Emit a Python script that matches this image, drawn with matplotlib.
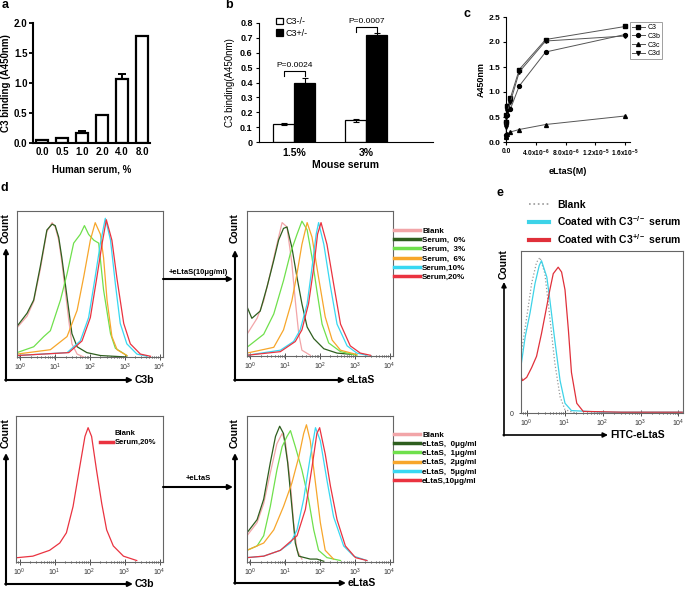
import numpy as np
import matplotlib
matplotlib.use('Agg')
import matplotlib.pyplot as plt
from matplotlib.lines import Line2D

plt.rcParams['font.family'] = ['Liberation Sans', 'DejaVu Sans']
plt.rcParams['mathtext.default'] = 'regular'

W, H = 685, 589

# ---------------------
# panel a: C3 binding vs human serum
# ---------------------
a_labels = ['0.0', '0.5', '1.0', '2.0', '4.0', '8.0']
a_values = [0.05, 0.08, 0.17, 0.46, 1.07, 1.78]
a_errors = [0.005, 0.01, 0.03, 0.015, 0.08, 0.01]

# ---------------------
# panel b: mouse serum
# ---------------------
b_groups = ['1.5%', '3%']
b_ko = [0.12, 0.145]
b_ko_err = [0.006, 0.01]
b_het = [0.40, 0.72]
b_het_err = [0.03, 0.01]
b_pvals = ['P=0.0024', 'P=0.0007']

# ---------------------
# panel c: eLtaS titration
# ---------------------
c_conc = [1.6e-5, 5.33e-6, 1.78e-6, 5.9e-7, 1.98e-7, 6.6e-8, 2.2e-8]
c_C3 = [2.31, 2.05, 1.45, 0.88, 0.73, 0.55, 0.40]
c_C3b = [2.15, 1.80, 1.12, 0.66, 0.55, 0.40, 0.15]
c_C3c = [0.52, 0.35, 0.25, 0.20, 0.16, 0.13, 0.10]
c_C3d = [2.12, 2.02, 1.40, 0.80, 0.62, 0.50, 0.30]
c_xticklabels = ['0.0', '4.0x10$^{-6}$', '8.0x10$^{-6}$', '1.2x10$^{-5}$', '1.6x10$^{-5}$']

# ---------------------
# panel d: flow histograms (log10 fluorescence, relative count)
# ---------------------
# top left, C3b
d1_blank_log = [-0.10, 0.19, 0.38, 0.57, 0.76, 0.91, 1.00, 1.10, 1.19, 1.29, 1.39, 1.48, 1.63, 1.82]
d1_blank_cnt = [20, 28, 38, 60, 86, 92, 89, 80, 65, 45, 25, 9, 2, 0]
d1_s0_log = [-0.10, 0.19, 0.38, 0.57, 0.76, 0.91, 1.00, 1.10, 1.19, 1.29, 1.39, 1.48, 1.63, 1.91, 2.30, 2.68, 3.06]
d1_s0_cnt = [21, 30, 39, 62, 87, 91, 90, 82, 68, 50, 32, 16, 7, 3, 1, 0.5, 0]
d1_s3_log = [-0.10, 0.38, 0.67, 0.86, 1.15, 1.34, 1.53, 1.72, 1.84, 1.96, 2.11, 2.25, 2.39, 2.59, 2.73, 3.06]
d1_s3_cnt = [3, 7, 14, 18, 39, 57, 78, 84, 90, 84, 80, 78, 46, 16, 6, 1]
d1_s6_log = [-0.10, 0.86, 1.34, 1.63, 1.82, 2.01, 2.15, 2.30, 2.39, 2.49, 2.63, 2.78, 3.06]
d1_s6_cnt = [2, 5, 14, 32, 55, 80, 92, 84, 68, 39, 14, 5, 1]
d1_s10_log = [-0.10, 1.34, 1.72, 1.96, 2.15, 2.30, 2.44, 2.59, 2.73, 2.87, 3.06, 3.35, 3.64]
d1_s10_cnt = [1, 3, 11, 27, 55, 78, 95, 80, 50, 23, 9, 2, 0.5]
d1_s20_log = [-0.10, 1.39, 1.77, 2.01, 2.20, 2.35, 2.47, 2.63, 2.78, 2.97, 3.16, 3.45, 3.74]
d1_s20_cnt = [1, 3, 11, 27, 55, 78, 94, 80, 53, 23, 9, 2, 0.5]

# top right, eLtaS after serum coating
d1e_blank_log = [-0.10, 0.19, 0.38, 0.57, 0.76, 0.91, 1.05, 1.19, 1.29, 1.39, 1.48, 1.72]
d1e_blank_cnt = [15, 26, 38, 57, 77, 92, 89, 64, 38, 15, 4, 0.5]
d1e_s0_log = [-0.10, 0.04, 0.28, 0.48, 0.67, 0.81, 0.95, 1.05, 1.19, 1.34, 1.48, 1.63, 1.82, 2.11, 2.49, 2.97]
d1e_s0_cnt = [34, 26, 31, 48, 66, 80, 88, 89, 75, 54, 36, 20, 12, 5, 2, 1]
d1e_s3_log = [-0.10, 0.38, 0.67, 0.95, 1.15, 1.34, 1.48, 1.63, 1.77, 1.91, 2.06, 2.25, 2.59, 3.06]
d1e_s3_cnt = [6, 15, 29, 52, 71, 84, 93, 87, 68, 45, 22, 9, 3, 0.5]
d1e_s6_log = [-0.10, 0.67, 0.95, 1.19, 1.34, 1.48, 1.63, 1.77, 1.96, 2.15, 2.35, 2.59, 3.06]
d1e_s6_cnt = [2, 6, 18, 38, 57, 77, 92, 82, 54, 27, 11, 4, 1]
d1e_s10_log = [-0.10, 0.86, 1.24, 1.43, 1.63, 1.77, 1.89, 1.96, 2.11, 2.30, 2.49, 2.78, 3.06, 3.35]
d1e_s10_cnt = [0.5, 4, 10, 18, 36, 61, 84, 92, 77, 48, 22, 7, 2, 0.5]
d1e_s20_log = [-0.10, 0.86, 1.29, 1.48, 1.67, 1.82, 1.93, 2.03, 2.20, 2.39, 2.59, 2.87, 3.16, 3.45]
d1e_s20_cnt = [0.5, 3, 10, 18, 36, 61, 84, 92, 77, 50, 22, 7, 2, 0.5]

# bottom left, C3b with 20% serum
d2_s20_log = [-0.10, -0.09, -0.05, 0.38, 0.86, 1.15, 1.34, 1.53, 1.72, 1.87, 1.96, 2.06, 2.20, 2.35, 2.49, 2.68, 2.97, 3.35]
d2_s20_cnt = [14, 3, 3, 4, 8, 13, 20, 38, 65, 86, 92, 86, 63, 40, 22, 11, 4, 1]

# bottom right, eLtaS titration
d2e_blank_log = [-0.10, 0.19, 0.38, 0.57, 0.76, 0.91, 1.00, 1.15, 1.24, 1.34, 1.48]
d2e_blank_cnt = [18, 27, 40, 61, 81, 88, 83, 54, 27, 8, 2]
d2e_e0_log = [-0.10, 0.19, 0.38, 0.57, 0.72, 0.84, 0.95, 1.07, 1.19, 1.29, 1.39, 1.72, 1.91, 2.11]
d2e_e0_cnt = [20, 29, 43, 68, 86, 93, 88, 68, 38, 13, 4, 2, 2, 0.5]
d2e_e1_log = [-0.10, 0.19, 0.38, 0.57, 0.76, 0.91, 1.05, 1.15, 1.29, 1.48, 1.67, 1.82, 1.96, 2.20, 2.59]
d2e_e1_cnt = [8, 11, 18, 38, 63, 79, 86, 90, 79, 63, 43, 22, 8, 3, 1]
d2e_e2_log = [-0.10, 0.38, 0.67, 0.95, 1.19, 1.39, 1.53, 1.61, 1.72, 1.87, 2.01, 2.15, 2.39]
d2e_e2_cnt = [8, 13, 22, 38, 54, 72, 88, 94, 83, 54, 27, 8, 2]
d2e_e5_log = [-0.10, 0.38, 0.86, 1.15, 1.34, 1.53, 1.72, 1.87, 2.01, 2.20, 2.39, 2.68, 2.97, 3.35]
d2e_e5_cnt = [3, 4, 8, 13, 22, 43, 72, 92, 83, 56, 31, 11, 4, 1]
d2e_e10_log = [-0.10, 0.38, 0.86, 1.34, 1.58, 1.77, 1.91, 1.99, 2.15, 2.30, 2.49, 2.73, 3.02, 3.35]
d2e_e10_cnt = [3, 4, 8, 18, 36, 65, 88, 92, 74, 52, 29, 11, 3, 1]

# ---------------------
# panel e: FITC-eLtaS on coated beads
# ---------------------
e_blank_log = [-0.13, 0.0, 0.13, 0.26, 0.35, 0.48, 0.61, 0.74, 0.88, 1.01, 1.30]
e_blank_cnt = [39, 59, 80, 93, 96, 86, 59, 31, 10, 2, 0]
e_ko_log = [-0.15, -0.04, 0.09, 0.22, 0.33, 0.39, 0.53, 0.61, 0.74, 0.88, 1.01, 1.18, 2.0, 4.1]
e_ko_cnt = [29, 47, 62, 80, 91, 94, 84, 70, 45, 20, 6, 1.5, 0.5, 0.5]
e_het_log = [-0.15, -0.14, -0.11, 0.0, 0.13, 0.26, 0.39, 0.53, 0.61, 0.70, 0.83, 0.92, 1.01, 1.10, 1.18, 1.32, 1.49, 2.5, 4.1]
e_het_cnt = [96, 22, 20, 22, 28, 35, 49, 66, 76, 86, 90, 87, 76, 51, 25, 6, 1, 0.5, 0.5]

d_colors = ['#f2a5a8', '#2e5e1e', '#6fe04c', '#f7a62b', '#38d8f2', '#ea3340']
d1_labels = ['Blank', 'Serum,  0%', 'Serum,  3%', 'Serum,  6%', 'Serum,10%', 'Serum,20%']
d2_labels = ['Blank', 'eLtaS,  0\u03bcg/ml', 'eLtaS,  1\u03bcg/ml', 'eLtaS,  2\u03bcg/ml',
             'eLtaS,  5\u03bcg/ml', 'eLtaS,10\u03bcg/ml']
e_labels = ['Blank', r'Coated with C3$^{-/-}$ serum', r'Coated with C3$^{+/-}$ serum']


def px_rect(x0, y0, x1, y1):
    return [x0 / W, 1 - y1 / H, (x1 - x0) / W, (y1 - y0) / H]


fig = plt.figure(figsize=(W / 100, H / 100), dpi=100)

# overlay in pixel coordinates for arrows and free text
ov = fig.add_axes([0, 0, 1, 1], zorder=10)
ov.set_xlim(0, W)
ov.set_ylim(H, 0)
ov.axis('off')
ov.patch.set_alpha(0)

# ---- a
ax = fig.add_axes(px_rect(33, 23, 150, 143))
xa = np.arange(len(a_values))
ax.errorbar(xa, a_values, yerr=[np.zeros(len(a_errors)), a_errors], fmt='none',
            ecolor='black', elinewidth=1.4, capsize=3, capthick=1.4, zorder=1)
ax.bar(xa, a_values, width=0.6, color='white', edgecolor='black', linewidth=1.6, zorder=2)
ax.set_xlim(-0.45, 5.4)
ax.set_ylim(0, 2.0)
ax.set_xticks(xa)
ax.set_xticklabels(a_labels, fontweight='bold')
ax.set_yticks([0, 0.5, 1.0, 1.5, 2.0])
ax.set_yticklabels(['0.0', '0.5', '1.0', '1.5', '2.0'], fontweight='bold')
for s in ['top', 'right']:
    ax.spines[s].set_visible(False)
for s in ['left', 'bottom']:
    ax.spines[s].set_linewidth(1.5)
ax.tick_params(axis='y', width=1.3, length=3, labelsize=7, pad=1)
ax.tick_params(axis='x', length=0, labelsize=7, pad=3)
ax.set_ylabel('C3 binding (A450nm)', fontsize=7, fontweight='bold', labelpad=2)
ax.set_xlabel('Human serum, %', fontsize=7, fontweight='bold', labelpad=5)

# ---- b
ax = fig.add_axes(px_rect(259, 23, 433, 142))
xb = np.arange(len(b_groups))
bw = 0.29
bk = ax.bar(xb - bw / 2, b_ko, width=bw, color='white', edgecolor='black', linewidth=0.9,
            yerr=b_ko_err, error_kw=dict(elinewidth=0.8, capsize=2, capthick=0.8))
bh = ax.bar(xb + bw / 2, b_het, width=bw, color='black', edgecolor='black', linewidth=0.9,
            yerr=b_het_err, error_kw=dict(elinewidth=0.8, capsize=2, capthick=0.8))
ax.set_xlim(-0.49, 1.93)
ax.set_ylim(0, 0.8)
ax.set_xticks(xb)
ax.set_xticklabels(b_groups, fontweight='bold')
ax.set_yticks(np.arange(0, 0.81, 0.1))
ax.set_yticklabels(['0', '0.1', '0.2', '0.3', '0.4', '0.5', '0.6', '0.7', '0.8'], fontweight='bold')
for s in ['top', 'right']:
    ax.spines[s].set_visible(False)
ax.tick_params(axis='y', width=0.8, length=2.5, labelsize=6.5, pad=2)
ax.tick_params(axis='x', length=0, labelsize=7.5, pad=4)
ax.set_ylabel('C3 binding(A450nm)', fontsize=7, labelpad=4)
ax.set_xlabel('Mouse serum', fontsize=7.5, fontweight='bold', labelpad=2)
br_top = [0.48, 0.775]
for i, p in enumerate(b_pvals):
    x0, x1 = xb[i] - bw / 2, xb[i] + bw / 2
    top = br_top[i]
    ax.plot([x0, x0, x1, x1], [top - 0.035, top, top, top - 0.035], color='black', lw=0.8,
            clip_on=False)
    ax.text(xb[i], top + 0.035, p, ha='center', va='center', fontsize=6)
ax.legend([bk, bh], ['C3-/-', 'C3+/-'], loc='upper left', bbox_to_anchor=(0.1, 1.05),
          frameon=False, fontsize=6.5, handlelength=0.7, handleheight=0.7,
          handletextpad=0.3, labelspacing=0.3, borderpad=0, borderaxespad=0)

# ---- c
ax = fig.add_axes(px_rect(506, 17, 630, 142))
for vals, m, name in zip([c_C3, c_C3b, c_C3c, c_C3d], ['s', 'o', '^', 'v'],
                         ['C3', 'C3b', 'C3c', 'C3d']):
    ax.plot(c_conc, vals, marker=m, color='#555555', lw=0.7, ms=2.8,
            mfc='black', mec='black', label=name, clip_on=False)
ax.set_xlim(0, 1.667e-5)
ax.set_ylim(0, 2.5)
ax.set_xticks([0, 4e-6, 8e-6, 1.2e-5, 1.6e-5])
ax.set_xticklabels(c_xticklabels, fontweight='bold', fontsize=4.8)
ax.set_yticks(np.arange(0, 2.51, 0.5))
ax.set_yticklabels(['0.0', '0.5', '1.0', '1.5', '2.0', '2.5'], fontweight='bold', fontsize=6)
for s in ['top', 'right']:
    ax.spines[s].set_visible(False)
ax.tick_params(width=0.8, length=2.5, pad=1.5)
ax.set_ylabel('A450nm', fontsize=6.5, fontweight='bold', labelpad=2)
ax.set_xlabel('eLtaS(M)', fontsize=6.5, fontweight='bold', labelpad=6)
leg = ax.legend(loc='upper left', bbox_to_anchor=(1.0, 0.96), fontsize=5, handlelength=1.8,
                borderpad=0.3, labelspacing=0.25, handletextpad=0.4, borderaxespad=0,
                fancybox=False, edgecolor='#888888')
leg.get_frame().set_linewidth(0.7)


# ---- flow histograms
def flow_axes(x0, y0, x1, y1, lo, hi):
    fa = fig.add_axes(px_rect(x0, y0, x1, y1))
    fa.set_xscale('log')
    fa.set_xlim(10 ** lo, 10 ** hi)
    fa.set_ylim(0, 100)
    fa.set_yticks([])
    fa.set_xticks([1, 10, 100, 1000, 10000])
    for s in fa.spines.values():
        s.set_color('#666666')
        s.set_linewidth(0.8)
    fa.tick_params(axis='x', which='both', direction='inout', labelsize=5, pad=1.5,
                   colors='#333333', width=0.6)
    fa.tick_params(axis='x', which='major', length=4)
    fa.tick_params(axis='x', which='minor', length=2)
    return fa


def draw(fa, logs, cnts, color, **kw):
    fa.plot(10 ** np.array(logs), cnts, color=color, lw=0.9, **kw)


ax = flow_axes(17, 211, 163, 357, -0.1, 4.1)
for lg, ct, col in zip([d1_blank_log, d1_s0_log, d1_s3_log, d1_s6_log, d1_s10_log, d1_s20_log],
                       [d1_blank_cnt, d1_s0_cnt, d1_s3_cnt, d1_s6_cnt, d1_s10_cnt, d1_s20_cnt],
                       d_colors):
    draw(ax, lg, ct, col)

ax = flow_axes(247, 211, 393, 356, -0.1, 4.1)
for lg, ct, col in zip([d1e_blank_log, d1e_s0_log, d1e_s3_log, d1e_s6_log, d1e_s10_log, d1e_s20_log],
                       [d1e_blank_cnt, d1e_s0_cnt, d1e_s3_cnt, d1e_s6_cnt, d1e_s10_cnt, d1e_s20_cnt],
                       d_colors):
    draw(ax, lg, ct, col)
handles = [Line2D([], [], color=c, lw=2.5) for c in d_colors]
ax.legend(handles, d1_labels, loc='upper left', bbox_to_anchor=(394, 227),
          bbox_transform=ov.transData, frameon=False, prop=dict(size=5.8, weight='bold'),
          handlelength=3.2, handletextpad=0.3, labelspacing=0.2, borderpad=0, borderaxespad=0)

ax = flow_axes(16, 416, 163, 562, -0.1, 4.1)
draw(ax, d2_s20_log, d2_s20_cnt, d_colors[5])
ax.legend([Line2D([], [], color='white', lw=2.5), Line2D([], [], color=d_colors[5], lw=2.5)],
          ['Blank', 'Serum,20%'], loc='upper left', bbox_to_anchor=(100, 430),
          bbox_transform=ov.transData, frameon=False, prop=dict(size=5.5, weight='bold'),
          handlelength=1.7, handletextpad=0.2, labelspacing=0.2, borderpad=0, borderaxespad=0)

ax = flow_axes(247, 416, 393, 562, -0.1, 4.1)
for lg, ct, col in zip([d2e_blank_log, d2e_e0_log, d2e_e1_log, d2e_e2_log, d2e_e5_log, d2e_e10_log],
                       [d2e_blank_cnt, d2e_e0_cnt, d2e_e1_cnt, d2e_e2_cnt, d2e_e5_cnt, d2e_e10_cnt],
                       d_colors):
    draw(ax, lg, ct, col)
ax.legend(handles, d2_labels, loc='upper left', bbox_to_anchor=(394, 431),
          bbox_transform=ov.transData, frameon=False, prop=dict(size=5.8, weight='bold'),
          handlelength=3.2, handletextpad=0.3, labelspacing=0.2, borderpad=0, borderaxespad=0)

# ---- e
ax = flow_axes(521, 251, 683, 413, -0.15, 4.12)
draw(ax, e_blank_log, e_blank_cnt, '#999999', ls=':')
draw(ax, e_ko_log, e_ko_cnt, '#3dd3e8')
draw(ax, e_het_log, e_het_cnt, '#e0303a')
ax.set_yticks([0])
ax.set_yticklabels(['0'])
ax.tick_params(axis='y', labelsize=5, length=3, direction='inout', colors='#333333', width=0.6)
e_handles = [Line2D([], [], color='#999999', lw=1.2, ls=':'),
             Line2D([], [], color='#3dd3e8', lw=3),
             Line2D([], [], color='#e0303a', lw=3)]
ax.legend(e_handles, e_labels, loc='upper left', bbox_to_anchor=(529, 200),
          bbox_transform=ov.transData, frameon=False, prop=dict(size=7.5, weight='bold'),
          handlelength=1.9, handletextpad=0.8, labelspacing=0.38, borderpad=0, borderaxespad=0)

# ---- arrows and labels
arrow_kw = dict(arrowstyle='-|>', color='black', lw=1.5, mutation_scale=7,
                shrinkA=0, shrinkB=0)


def axis_arrows(x, y, ytip, xtip, xlabel, ycount, lw=1.5):
    kw = dict(arrow_kw, lw=lw)
    ov.annotate('', xy=(x, ytip), xytext=(x, y + 0.8), arrowprops=kw)
    ov.annotate('', xy=(xtip, y), xytext=(x - 0.8, y), arrowprops=kw)
    ov.text(x, ycount, 'Count', rotation=90, ha='center', va='center',
            fontsize=7.5, fontweight='bold')
    ov.text(xtip + 2, y, xlabel, ha='left', va='center', fontsize=7.5, fontweight='bold')


axis_arrows(6, 380, 248, 133, 'C3b', 228)
axis_arrows(235, 380, 250, 345, 'eLtaS', 228)
axis_arrows(6, 584, 453, 133, 'C3b', 433)
axis_arrows(235, 583, 453, 346, 'eLtaS', 433)
axis_arrows(504, 435, 282, 608, 'FITC-eLtaS', 264, lw=1.2)

ov.annotate('', xy=(233, 279), xytext=(163, 279), arrowprops=arrow_kw)
ov.text(198, 272, '+eLtaS(10\u03bcg/ml)', ha='center', va='center', fontsize=5.5, fontweight='bold')
ov.annotate('', xy=(233, 487), xytext=(163, 487), arrowprops=arrow_kw)
ov.text(198, 479, '+eLtaS', ha='center', va='center', fontsize=5.5, fontweight='bold')

for letter, x, y in [('a', 5, 5), ('b', 229, 5), ('c', 467, 14), ('d', 4, 188), ('e', 500, 193)]:
    ov.text(x, y, letter, ha='center', va='center', fontsize=9, fontweight='bold')

fig.savefig('out.png', dpi=100)
